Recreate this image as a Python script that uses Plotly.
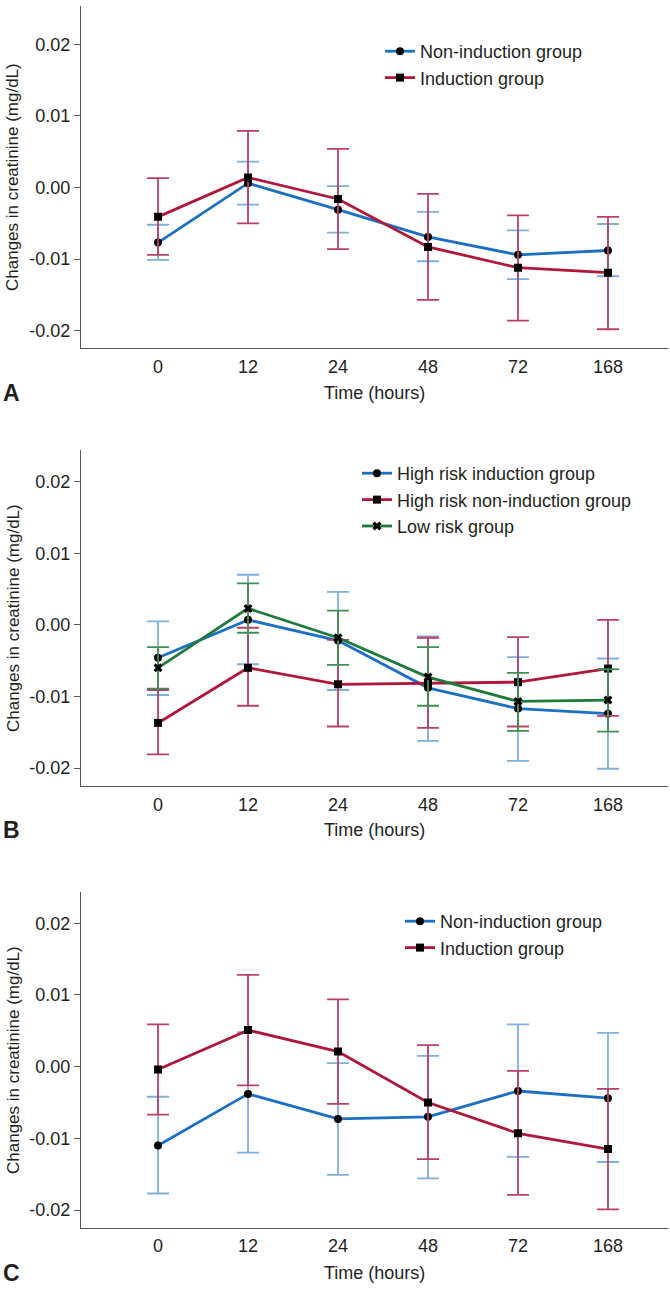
import plotly.graph_objects as go

# ---------------- data ----------------
hours = ["0", "12", "24", "48", "72", "168"]
y_tick_vals = [-0.02, -0.01, 0.0, 0.01, 0.02]
y_tick_text = ["-0.02", "-0.01", "0.00", "0.01", "0.02"]

# Panel A
a_non_mean = [-0.0077, 0.0006, -0.0031, -0.0069, -0.0094, -0.0088]
a_non_upper = [-0.0052, 0.0036, 0.0002, -0.0034, -0.0060, -0.0051]
a_non_lower = [-0.0101, -0.0024, -0.0063, -0.0103, -0.0128, -0.0124]
a_ind_mean = [-0.0041, 0.0014, -0.0016, -0.0083, -0.0112, -0.0119]
a_ind_upper = [0.0013, 0.0079, 0.0054, -0.0009, -0.0039, -0.0041]
a_ind_lower = [-0.0094, -0.0050, -0.0086, -0.0157, -0.0186, -0.0198]

# Panel B
b_hri_mean = [-0.0046, 0.0007, -0.0022, -0.0088, -0.0117, -0.0124]
b_hri_upper = [0.0005, 0.0070, 0.0046, -0.0016, -0.0045, -0.0047]
b_hri_lower = [-0.0098, -0.0055, -0.0091, -0.0162, -0.0190, -0.0201]
b_hrn_mean = [-0.0137, -0.0060, -0.0083, -0.0081, -0.0080, -0.0061]
b_hrn_upper = [-0.0091, -0.0004, -0.0021, -0.0018, -0.0017, 0.0007]
b_hrn_lower = [-0.0181, -0.0113, -0.0142, -0.0144, -0.0142, -0.0127]
b_low_mean = [-0.0060, 0.0023, -0.0018, -0.0073, -0.0107, -0.0105]
b_low_upper = [-0.0031, 0.0058, 0.0020, -0.0031, -0.0067, -0.0062]
b_low_lower = [-0.0089, -0.0011, -0.0056, -0.0113, -0.0148, -0.0149]

# Panel C
c_non_mean = [-0.0110, -0.0038, -0.0073, -0.0070, -0.0034, -0.0044]
c_non_upper = [-0.0042, 0.0048, 0.0005, 0.0015, 0.0059, 0.0047]
c_non_lower = [-0.0177, -0.0120, -0.0151, -0.0156, -0.0126, -0.0133]
c_ind_mean = [-0.0004, 0.0051, 0.0021, -0.0050, -0.0093, -0.0115]
c_ind_upper = [0.0059, 0.0128, 0.0094, 0.0030, -0.0006, -0.0031]
c_ind_lower = [-0.0067, -0.0026, -0.0052, -0.0129, -0.0179, -0.0199]

# ---------------- styling ----------------
W, H = 670, 1289
BLUE, BLUE_ERR = "#1c6fc2", "#7fb0dc"
RED, RED_ERR = "#b0173c", "#b8406a"
GREEN, GREEN_ERR = "#1d7a3a", "#3f8f55"
AXIS = "#555555"
TXT = "#231f20"
SANS = "Liberation Sans, Arial, sans-serif"


def py(y):
    return 1 - y / H


def trace(name, mean, upper, lower, color, ecolor, symbol, xa, ya, legend):
    return go.Scatter(
        x=hours, y=mean, name=name, mode="lines+markers",
        line=dict(color=color, width=2.8),
        marker=dict(symbol=symbol, size=8, color="black", line=dict(width=0)),
        error_y=dict(type="data", symmetric=False,
                     array=[u - m for u, m in zip(upper, mean)],
                     arrayminus=[m - l for m, l in zip(mean, lower)],
                     color=ecolor, thickness=1.8, width=11),
        xaxis=xa, yaxis=ya, legend=legend,
    )


fig = go.Figure()
fig.add_trace(trace("Non-induction group", a_non_mean, a_non_upper, a_non_lower,
                    BLUE, BLUE_ERR, "circle", "x", "y", "legend"))
fig.add_trace(trace("Induction group", a_ind_mean, a_ind_upper, a_ind_lower,
                    RED, RED_ERR, "square", "x", "y", "legend"))
fig.add_trace(trace("High risk induction group", b_hri_mean, b_hri_upper, b_hri_lower,
                    BLUE, BLUE_ERR, "circle", "x2", "y2", "legend2"))
fig.add_trace(trace("High risk non-induction group", b_hrn_mean, b_hrn_upper, b_hrn_lower,
                    RED, RED_ERR, "square", "x2", "y2", "legend2"))
fig.add_trace(trace("Low risk group", b_low_mean, b_low_upper, b_low_lower,
                    GREEN, GREEN_ERR, "x", "x2", "y2", "legend2"))
fig.add_trace(trace("Non-induction group", c_non_mean, c_non_upper, c_non_lower,
                    BLUE, BLUE_ERR, "circle", "x3", "y3", "legend3"))
fig.add_trace(trace("Induction group", c_ind_mean, c_ind_upper, c_ind_lower,
                    RED, RED_ERR, "square", "x3", "y3", "legend3"))

x_dom = [81 / W, 668 / W]
panels = [
    # (y top px, y bottom px, range)
    (6, 348.3, [-0.02246, 0.02535]),
    (450, 786, [-0.02251, 0.02443]),
    (891.7, 1227.7, [-0.02247, 0.02441]),
]

layout = dict(
    width=W, height=H, margin=dict(l=0, r=0, t=0, b=0),
    paper_bgcolor="white", plot_bgcolor="white", showlegend=True,
)
for i, (top, bot, rng) in enumerate(panels):
    sfx = "" if i == 0 else str(i + 1)
    layout["xaxis" + sfx] = dict(
        domain=x_dom, anchor="y" + sfx, type="category",
        categoryorder="array", categoryarray=hours,
        range=[-0.856, 5.667], showline=True, linecolor=AXIS, linewidth=1.2,
        ticks="", showgrid=False, zeroline=False,
        tickfont=dict(family=SANS, size=18, color=TXT), ticklabelstandoff=2,
        fixedrange=True,
    )
    layout["yaxis" + sfx] = dict(
        domain=[py(bot), py(top)], anchor="x" + sfx, range=rng,
        tickvals=y_tick_vals, ticktext=y_tick_text,
        showline=True, linecolor=AXIS, linewidth=1.2,
        ticks="outside", ticklen=6, tickcolor=AXIS, tickwidth=1.2,
        showgrid=False, zeroline=False,
        tickfont=dict(family=SANS, size=18, color=TXT),
    )

leg_font = dict(family=SANS, size=18, color=TXT)
layout["legend"] = dict(x=380 / W, y=py(33), xanchor="left", yanchor="top",
                        font=leg_font, bgcolor="rgba(0,0,0,0)")
layout["legend2"] = dict(x=357 / W, y=py(455), xanchor="left", yanchor="top",
                         font=leg_font, bgcolor="rgba(0,0,0,0)")
layout["legend3"] = dict(x=400 / W, y=py(903), xanchor="left", yanchor="top",
                         font=leg_font, bgcolor="rgba(0,0,0,0)")

annotations = []
for letter, ymid, ytime in [("A", 177, 393), ("B", 618, 830), ("C", 1060, 1273)]:
    annotations.append(dict(text="Changes in creatinine (mg/dL)", textangle=-90,
                            x=13 / W, y=py(ymid), xref="paper", yref="paper",
                            xanchor="center", yanchor="middle", showarrow=False,
                            font=dict(family=SANS, size=17, color=TXT)))
    annotations.append(dict(text="Time (hours)", x=375 / W, y=py(ytime),
                            xref="paper", yref="paper", xanchor="center",
                            yanchor="middle", showarrow=False,
                            font=dict(family=SANS, size=18, color=TXT)))
    annotations.append(dict(text="<b>" + letter + "</b>", x=11 / W, y=py(ytime),
                            xref="paper", yref="paper", xanchor="center",
                            yanchor="middle", showarrow=False,
                            font=dict(family=SANS, size=23, color=TXT)))
layout["annotations"] = annotations

fig.update_layout(**layout)
# remove the browser's default 8px page margin so the figure fills the window
fig.write_html("out.html", config={"displayModeBar": False},
               post_script="document.body.style.margin='0';")
